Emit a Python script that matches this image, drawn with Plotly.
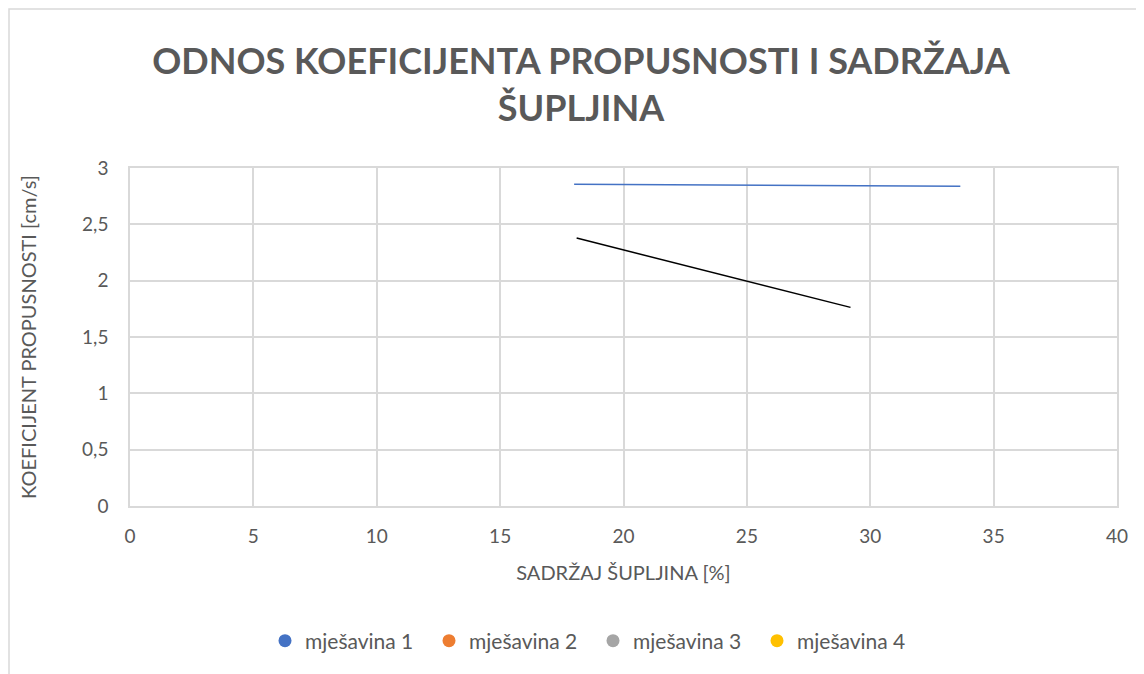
import plotly.graph_objects as go

# Data
series_names = ["mješavina 1", "mješavina 2", "mješavina 3", "mješavina 4"]
series_colors = ["#4472C4", "#ED7D31", "#A5A5A5", "#FFC000"]

mix1_x = [18.0, 33.65]
mix1_y = [2.855, 2.838]

trend_x = [18.1, 29.2]
trend_y = [2.378, 1.763]

x_ticks = [0, 5, 10, 15, 20, 25, 30, 35, 40]
y_ticks = [0, 0.5, 1, 1.5, 2, 2.5, 3]
y_tick_labels = ["0", "0,5", "1", "1,5", "2", "2,5", "3"]

FONT = "Lato"
GREY = "#595959"

W, H = 1136, 666
L, R, T, B = 122, 27, 160, 168
PW, PH = W - L - R, H - T - B

fig = go.Figure()

fig.add_trace(go.Scatter(x=mix1_x, y=mix1_y, mode="lines",
                         line=dict(color=series_colors[0], width=1.5),
                         showlegend=False, hoverinfo="skip"))
fig.add_trace(go.Scatter(x=trend_x, y=trend_y, mode="lines",
                         line=dict(color="black", width=1.5),
                         showlegend=False, hoverinfo="skip"))

for name, color in zip(series_names, series_colors):
    fig.add_trace(go.Scatter(x=[None], y=[None], mode="markers", name=name,
                             marker=dict(color=color, size=13)))

fig.update_layout(
    width=W, height=H,
    paper_bgcolor="white", plot_bgcolor="white",
    margin=dict(l=L, r=R, t=T, b=B),
    title=dict(text="ODNOS KOEFICIJENTA PROPUSNOSTI I SADRŽAJA<br>ŠUPLJINA",
               xref="container", x=573 / W, xanchor="center",
               yref="container", y=1 - 66 / H, yanchor="middle",
               font=dict(family=FONT, size=36, color=GREY, weight="bold")),
    font=dict(family=FONT, color=GREY, size=19),
    legend=dict(orientation="h", xref="container", x=585 / W, xanchor="center",
                yref="container", y=1 - 633 / H, yanchor="middle",
                font=dict(family=FONT, size=21, color=GREY),
                itemwidth=30, tracegroupgap=0, entrywidth=119,
                entrywidthmode="pixels"),
    xaxis=dict(range=[0, 40], tickvals=x_ticks, showgrid=True, gridcolor="#D9D9D9",
               gridwidth=1.5, zeroline=False, showline=True, linecolor="#D9D9D9",
               linewidth=1.5, mirror=True, ticks="", ticklen=0, ticklabelstandoff=12,
               title=dict(text="SADRŽAJ ŠUPLJINA [%]", standoff=20,
                          font=dict(family=FONT, size=20, color=GREY)),
               tickfont=dict(family=FONT, size=19, color=GREY)),
    yaxis=dict(range=[0, 3], tickvals=y_ticks, ticktext=y_tick_labels, showgrid=True,
               gridcolor="#D9D9D9", gridwidth=1.5, zeroline=False, showline=True,
               linecolor="#D9D9D9", linewidth=1.5, mirror=True, ticks="",
               ticklabelstandoff=16,
               title=dict(text="KOEFICIJENT PROPUSNOSTI [cm/s]", standoff=40,
                          font=dict(family=FONT, size=20, color=GREY)),
               tickfont=dict(family=FONT, size=19, color=GREY)),
    shapes=[dict(type="rect", xref="paper", yref="paper",
                 x0=-(L - 1) / PW, x1=1.2, y0=-1.0, y1=1.0 + (T - 1) / PH,
                 line=dict(color="#D9D9D9", width=1.5), fillcolor="rgba(0,0,0,0)",
                 layer="below")],
)

fig.write_html("out.html")
